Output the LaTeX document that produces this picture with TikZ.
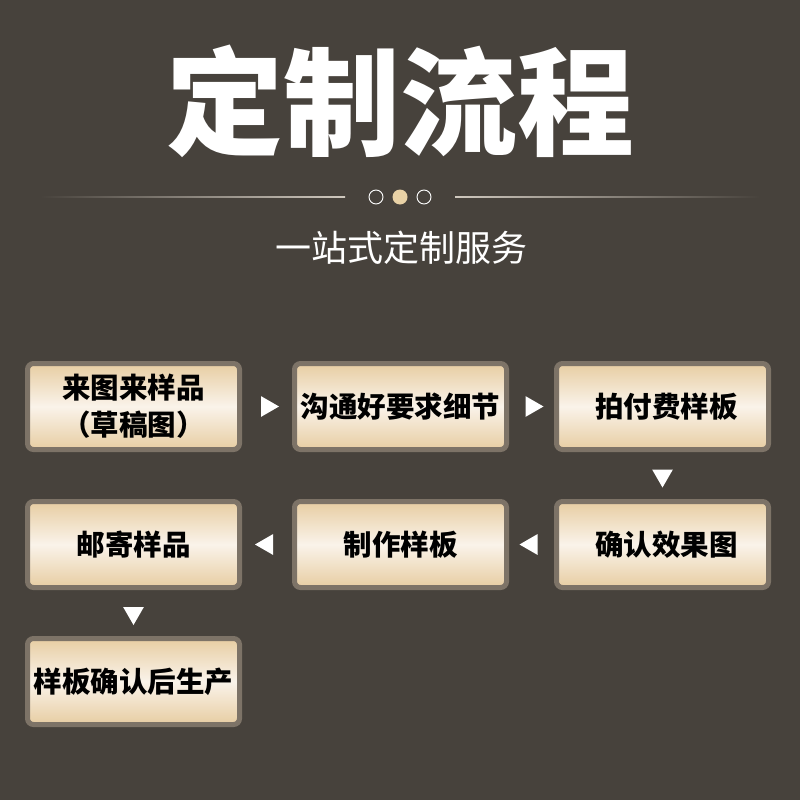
\documentclass[tikz,border=0pt]{standalone}
\usepackage{fontspec}
\newfontfamily\cjk{Noto Sans CJK SC}
\usetikzlibrary{shapes.geometric, calc, positioning}
\definecolor{bgDark}{HTML}{47423C}
\definecolor{boxRim}{HTML}{7D7367}
\definecolor{boxGold}{HTML}{E7CDA2}
\definecolor{boxPale}{HTML}{FAF3EA}
\definecolor{dotGold}{HTML}{E9D2A6}
\definecolor{rule}{HTML}{CFC8BE}
\tikzset{
  stepbox/.style  = {draw=boxRim, line width=5pt, rounded corners=6pt,
                     minimum width=212pt, minimum height=86pt, inner sep=2pt,
                     top color=boxGold, bottom color=boxGold, middle color=boxPale,
                     font=\cjk\bfseries\fontsize{28.5}{37}\selectfont, align=center},
  tri/.style      = {isosceles triangle, fill=white, inner sep=0pt,
                     isosceles triangle apex angle=60, minimum height=18pt},
  rtri/.style     = {tri, shape border rotate=0},
  ltri/.style     = {tri, shape border rotate=180},
  dtri/.style     = {tri, shape border rotate=-90},
  ring/.style     = {circle, draw=white, line width=0.9pt, minimum size=14pt, inner sep=0pt},
}
\begin{document}
\begin{tikzpicture}[x=1pt, y=-1pt]
  \fill[bgDark] (0,0) rectangle (800,800);
  \useasboundingbox (0,0) rectangle (800,800);

  % heading
  \node[text=white, font=\cjk\bfseries\fontsize{117}{130}\selectfont] (title) at (400,101) {定制流程};
  \shade[left color=bgDark, right color=rule] (40,196.5) rectangle (345,197.5);
  \shade[left color=rule, right color=bgDark] (455,196.5) rectangle (760,197.5);
  \node[ring] (d1) at (376,197) {};
  \node[circle, fill=dotGold, minimum size=15pt, inner sep=0pt] (d2) at (400,197) {};
  \node[ring] (d3) at (424,197) {};
  \node[text=white, font=\cjk\fontsize{36}{42}\selectfont] (sub) at (401,248) {一站式定制服务};

  % steps
  \node[stepbox] (s1) at (133.5,406.5) {来图来样品\\（草稿图）};
  \node[stepbox] (s2) at (400.5,406.5) {沟通好要求细节};
  \node[stepbox] (s3) at (662.5,406.5) {\hspace{8pt}拍付费样板};
  \node[stepbox] (s4) at (662.5,544.5) {\hspace{8pt}确认效果图};
  \node[stepbox] (s5) at (400.5,544.5) {制作样板};
  \node[stepbox] (s6) at (133.5,544.5) {邮寄样品};
  \node[stepbox] (s7) at (133.5,681.5) {样板确认后生产};

  % markers between steps
  \node[rtri] at ($(s1.east)!0.5!(s2.west)$) {};
  \node[rtri] at ($(s2.east)!0.5!(s3.west)$) {};
  \node[dtri] at ($(s3.south)!0.5!(s4.north)$) {};
  \node[ltri] at ($(s4.west)!0.5!(s5.east)$) {};
  \node[ltri] at ($(s5.west)!0.5!(s6.east)$) {};
  \node[dtri] at ($(s6.south)!0.5!(s7.north)$) {};
\end{tikzpicture}
\end{document}
